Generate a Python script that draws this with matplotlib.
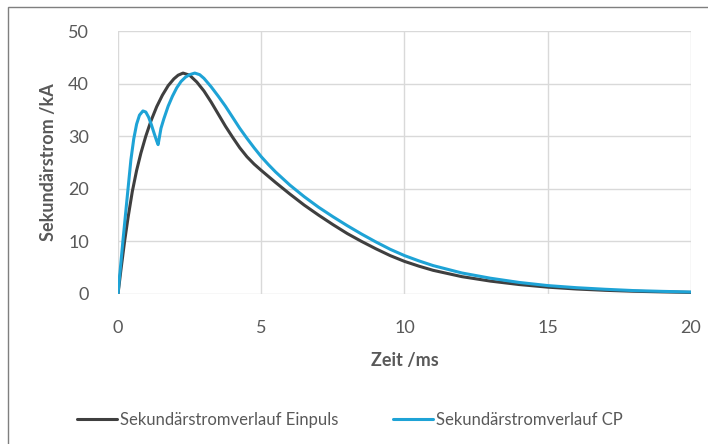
import matplotlib
matplotlib.use("Agg")
import matplotlib.pyplot as plt
from matplotlib.patches import Rectangle

# Data (time in ms, current in kA)
t_einpuls = [0, 0.1, 0.23, 0.35, 0.5, 0.65, 0.8, 0.97, 1.15, 1.35, 1.55, 1.75, 1.95, 2.1, 2.27,
             2.5, 2.75, 3.0, 3.25, 3.5, 3.75, 4.0, 4.25, 4.5, 4.75, 5.0, 5.5, 6.0, 6.5, 7.0, 7.5,
             8.0, 8.5, 9.0, 9.5, 10, 10.5, 11, 12, 13, 14, 15, 16, 17, 18, 19, 20]
i_einpuls = [0, 4.5, 10, 14.5, 19.5, 23.5, 26.8, 30, 32.9, 35.6, 37.8, 39.6, 40.9, 41.6, 42,
             41.6, 40.3, 38.6, 36.5, 34.2, 31.9, 29.8, 27.8, 26.1, 24.7, 23.5, 21.2, 19.0, 16.9, 15.0, 13.2,
             11.5, 10.0, 8.6, 7.3, 6.2, 5.3, 4.5, 3.3, 2.45, 1.8, 1.3, 0.95, 0.7, 0.52, 0.4, 0.3]

t_cp = [0, 0.05, 0.17, 0.35, 0.45, 0.55, 0.65, 0.75, 0.87, 0.97, 1.07, 1.17, 1.27, 1.35, 1.4,
        1.5, 1.6, 1.75, 1.9, 2.05, 2.2, 2.35, 2.5, 2.68, 2.85, 3.0, 3.25, 3.5, 3.75, 4.0, 4.25,
        4.5, 4.75, 5.0, 5.25, 5.5, 6.0, 6.5, 7.0, 7.5, 8.0, 8.5, 9.0, 9.5, 10, 10.5, 11, 12, 13, 14,
        15, 16, 17, 18, 19, 20]
i_cp = [0, 3, 10, 20, 25.5, 29.5, 32.3, 34.0, 34.8, 34.6, 33.6, 32.1, 30.4, 29.1, 28.4,
        31.5, 33.3, 35.7, 37.6, 39.2, 40.4, 41.2, 41.7, 42, 41.7, 41.0, 39.4, 37.6, 35.7, 33.6, 31.5,
        29.6, 27.8, 26.1, 24.6, 23.2, 20.7, 18.5, 16.5, 14.7, 13.0, 11.4, 9.9, 8.5, 7.3, 6.3, 5.4, 4.0, 3.0, 2.2,
        1.6, 1.2, 0.9, 0.65, 0.5, 0.38]

x_ticks = [0, 5, 10, 15, 20]
y_ticks = [0, 10, 20, 30, 40, 50]
label_einpuls = "Sekundärstromverlauf Einpuls"
label_cp = "Sekundärstromverlauf CP"

plt.rcParams['font.family'] = ['Lato', 'DejaVu Sans']

fig = plt.figure(figsize=(7.08, 4.44), dpi=100)
W, H = 708, 444
ax = fig.add_axes([118 / W, 1 - 294 / H, (691 - 118) / W, (294 - 31) / H])

ax.plot(t_einpuls, i_einpuls, color='#3f3f3f', lw=2.2, label=label_einpuls,
        solid_joinstyle='round', solid_capstyle='round')
ax.plot(t_cp, i_cp, color='#1ea3d6', lw=2.2, label=label_cp,
        solid_joinstyle='round', solid_capstyle='round')

ax.set_xlim(0, 20)
ax.set_ylim(0, 50)
ax.set_xticks(x_ticks)
ax.set_yticks(y_ticks)
ax.grid(True, color='#d9d9d9', lw=1)
ax.set_axisbelow(True)
for s in ax.spines.values():
    s.set_visible(False)
ax.tick_params(length=0, labelsize=13, labelcolor='#595959')
ax.tick_params(axis='x', pad=19)
ax.tick_params(axis='y', pad=21)

ax.set_xlabel("Zeit /ms", fontsize=13, fontweight='bold', color='#595959', labelpad=11)
ax.set_ylabel("Sekundärstrom /kA", fontsize=13, fontweight='bold', color='#595959', labelpad=8)

leg = fig.legend(loc='center', bbox_to_anchor=(350 / W, 1 - 420 / H), ncol=2, frameon=False,
                 fontsize=12, handlelength=2.4, handletextpad=0.15, columnspacing=3.3)
for txt in leg.get_texts():
    txt.set_color('#595959')

fig.patches.append(Rectangle((8 / W, -0.01), 1.1, 1 - 7 / H + 0.01, transform=fig.transFigure,
                             fill=False, edgecolor='#7f7f7f', lw=1))

fig.savefig("out.png", dpi=100)
